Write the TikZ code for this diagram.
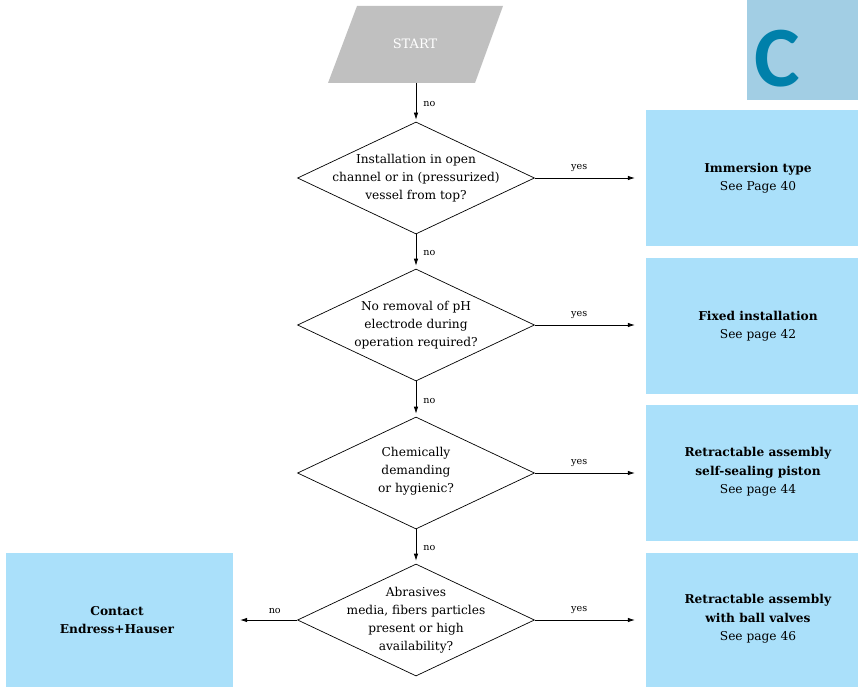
\documentclass[tikz,border=0pt]{standalone}
\usepackage{fontspec}
\setmainfont{DejaVu Serif}
\newfontfamily\cfont{Carlito}
\usetikzlibrary{shapes.geometric,arrows.meta}
\definecolor{boxblue}{RGB}{170,224,250}
\definecolor{cblue}{RGB}{162,206,228}
\definecolor{cteal}{RGB}{0,128,170}
\definecolor{startgray}{RGB}{192,192,192}
\tikzset{
  dia/.style={diamond,draw,line width=0.7pt,minimum width=237pt,minimum height=112pt,inner sep=0pt},
  qtext/.style={align=center,font=\fontsize{12.2}{18}\selectfont,inner sep=0pt},
  infobox/.style={rectangle,fill=boxblue,minimum width=212pt,minimum height=136pt,inner sep=0pt},
  btext/.style={align=center,font=\fontsize{12.2}{18.5}\selectfont,inner sep=0pt},
  lbl/.style={font=\fontsize{9.6}{11}\selectfont,inner sep=0pt},
  arr/.style={line width=0.7pt,-{Latex[length=7pt,width=4.5pt]}},
}
\begin{document}
\begin{tikzpicture}[x=1pt,y=-1pt]
\useasboundingbox (0,0) rectangle (858,687);
% C tab
\node[rectangle,fill=cblue,minimum width=111pt,minimum height=100pt,inner sep=0pt] (ctab) at (802.5,50) {};
\node[text=cteal,font=\cfont\bfseries\fontsize{86}{86}\selectfont,inner sep=0pt] (cl) at (777.5,59) {C};
% START
\fill[startgray] (357,6) -- (503,6) -- (475,83) -- (328,83) -- cycle;
\node[text=white,font=\fontsize{13}{15}\selectfont,inner sep=0pt] (start) at (415,44) {START};
\coordinate (sb) at (416,83);
% diamonds
\node[dia] (d1) at (416,178) {};
\node[dia] (d2) at (416,325) {};
\node[dia] (d3) at (416,473) {};
\node[dia] (d4) at (416,620) {};
\node[qtext] (t1) at (416,178) {Installation in open\\channel or in (pressurized)\\vessel from top?};
\node[qtext] (t2) at (416,325) {No removal of pH\\electrode during\\operation required?};
\node[qtext] (t3) at (416,471) {Chemically\\demanding\\or hygienic?};
\node[qtext] (t4) at (416,620) {Abrasives\\media, fibers particles\\present or high\\availability?};
% boxes
\node[infobox] (b1) at (752,178) {};
\node[infobox] (b2) at (752,326) {};
\node[infobox] (b3) at (752,473) {};
\node[infobox,minimum height=134pt] (b4) at (752,620) {};
\node[infobox,minimum width=227pt,minimum height=134pt] (b5) at (119.5,620) {};
\node[btext] (bt1) at (758,178) {\textbf{Immersion type}\\See Page 40};
\node[btext] (bt2) at (758,326) {\textbf{Fixed installation}\\See page 42};
\node[btext] (bt3) at (758,472) {\textbf{Retractable assembly}\\\textbf{self-sealing piston}\\See page 44};
\node[btext] (bt4) at (758,619) {\textbf{Retractable assembly}\\\textbf{with ball valves}\\See page 46};
\node[btext] (bt5) at (117,620) {\textbf{Contact}\\\textbf{Endress+Hauser}};
% connectors
\draw[arr,shorten >=2pt] (sb) -- (d1.north) node[lbl,pos=0.55,right=7pt] {no};
\draw[arr,shorten >=3pt] (d1.south) -- (d2.north) node[lbl,pos=0.55,right=7pt] {no};
\draw[arr,shorten >=3pt] (d2.south) -- (d3.north) node[lbl,pos=0.55,right=7pt] {no};
\draw[arr,shorten >=3pt] (d3.south) -- (d4.north) node[lbl,pos=0.55,right=7pt] {no};
\draw[arr,shorten >=11pt] (d1.east) -- (b1.west) node[lbl,pos=0.4,above=6pt] {yes};
\draw[arr,shorten >=11pt] (d2.east) -- (b2.west|-d2.east) node[lbl,pos=0.4,above=6pt] {yes};
\draw[arr,shorten >=11pt] (d3.east) -- (b3.west) node[lbl,pos=0.4,above=6pt] {yes};
\draw[arr,shorten >=11pt] (d4.east) -- (b4.west) node[lbl,pos=0.4,above=6pt] {yes};
\draw[arr,shorten >=7pt] (d4.west) -- (b5.east) node[lbl,pos=0.35,above=6pt] {no};
\end{tikzpicture}
\end{document}
